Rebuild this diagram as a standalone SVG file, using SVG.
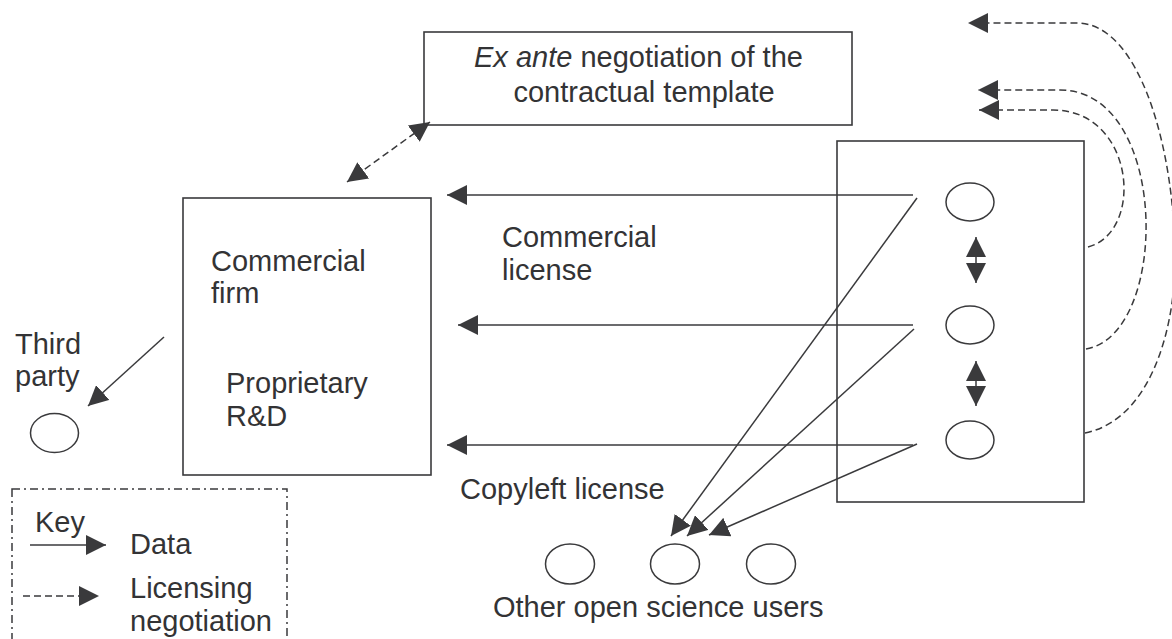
<svg xmlns="http://www.w3.org/2000/svg" width="1172" height="639" viewBox="0 0 1172 639">
<defs>
<style>
.t{font-family:"Liberation Sans",Arial,sans-serif;font-size:29px;fill:#333335}
.box{fill:none;stroke:#3a3a3c;stroke-width:1.6}
.ln{fill:none;stroke:#3a3a3c;stroke-width:1.5}
.ds{fill:none;stroke:#3a3a3c;stroke-width:1.5;stroke-dasharray:7 4}
.el{fill:#fff;stroke:#3a3a3c;stroke-width:1.5}
</style>
<marker id="ah" markerUnits="userSpaceOnUse" markerWidth="20" markerHeight="20" refX="20" refY="10" orient="auto-start-reverse" viewBox="0 0 20 20">
<path d="M0,0 L20,10 L0,20 Z" fill="#3a3a3c"/>
</marker>
</defs>
<rect width="1172" height="639" fill="#fff"/>

<g id="exante">
<rect class="box" x="424" y="32" width="428" height="93"/>
<text class="t" x="474" y="67"><tspan font-style="italic">Ex ante</tspan> negotiation of the</text>
<text class="t" x="644" y="102" text-anchor="middle">contractual template</text>
</g>

<g id="firm">
<rect class="box" x="183" y="198" width="248" height="277"/>
<text class="t" x="211" y="271">Commercial</text>
<text class="t" x="211" y="303">firm</text>
<text class="t" x="226" y="393">Proprietary</text>
<text class="t" x="226" y="426">R&amp;D</text>
</g>

<g id="thirdparty">
<text class="t" x="15" y="354">Third</text>
<text class="t" x="15" y="386">party</text>
<ellipse class="el" cx="54.5" cy="433" rx="24" ry="19.5"/>
</g>

<g id="openscience">
<rect class="box" x="837" y="141" width="247" height="361"/>
<ellipse class="el" cx="970" cy="202" rx="24" ry="19"/>
<ellipse class="el" cx="970" cy="325" rx="24" ry="19"/>
<ellipse class="el" cx="970" cy="440" rx="24" ry="19"/>
</g>

<g id="users">
<ellipse class="el" cx="570" cy="564" rx="24.5" ry="20"/>
<ellipse class="el" cx="675" cy="564" rx="24.5" ry="20"/>
<ellipse class="el" cx="771" cy="564" rx="24.5" ry="20"/>
<text class="t" x="493" y="617">Other open science users</text>
</g>

<g id="labels">
<text class="t" x="502" y="247">Commercial</text>
<text class="t" x="502" y="280">license</text>
<text class="t" x="460" y="499">Copyleft license</text>
</g>

<g id="connectors">
<line class="ln" x1="913" y1="195" x2="447" y2="195" marker-end="url(#ah)"/>
<line class="ln" x1="913" y1="325" x2="458" y2="325" marker-end="url(#ah)"/>
<line class="ln" x1="913" y1="445" x2="447" y2="445" marker-end="url(#ah)"/>
<line class="ln" x1="917" y1="198" x2="671" y2="536" marker-end="url(#ah)"/>
<line class="ln" x1="914" y1="329" x2="687" y2="536" marker-end="url(#ah)"/>
<line class="ln" x1="917" y1="444" x2="709" y2="535" marker-end="url(#ah)"/>
<line class="ln" x1="164" y1="337" x2="88" y2="406" marker-end="url(#ah)"/>
<line class="ln" x1="976" y1="237" x2="976" y2="283" marker-start="url(#ah)" marker-end="url(#ah)"/>
<line class="ln" x1="976" y1="361" x2="976" y2="406" marker-start="url(#ah)" marker-end="url(#ah)"/>
<line class="ds" x1="347" y1="182" x2="430" y2="122" marker-start="url(#ah)" marker-end="url(#ah)"/>
<path class="ds" d="M1088,247 C1145,232 1135,110 1053,110 L979,110" marker-end="url(#ah)"/>
<path class="ds" d="M1086,349 C1170,335 1170,90 1060,90 L978,90" marker-end="url(#ah)"/>
<path class="ds" d="M1085,433 C1150,420 1175,330 1175,260 C1175,150 1140,23 1077,23 L968,23" marker-end="url(#ah)"/>
</g>

<g id="legend">
<rect fill="none" stroke="#3a3a3c" stroke-width="1.5" stroke-dasharray="8 4 2 4" x="12" y="489" width="275" height="170"/>
<text class="t" x="35" y="532">Key</text>
<line class="ln" x1="30" y1="545" x2="106" y2="545" marker-end="url(#ah)"/>
<text class="t" x="130" y="554">Data</text>
<line class="ds" x1="23" y1="596" x2="99" y2="596" marker-end="url(#ah)"/>
<text class="t" x="130" y="598">Licensing</text>
<text class="t" x="130" y="631">negotiation</text>
</g>
</svg>
